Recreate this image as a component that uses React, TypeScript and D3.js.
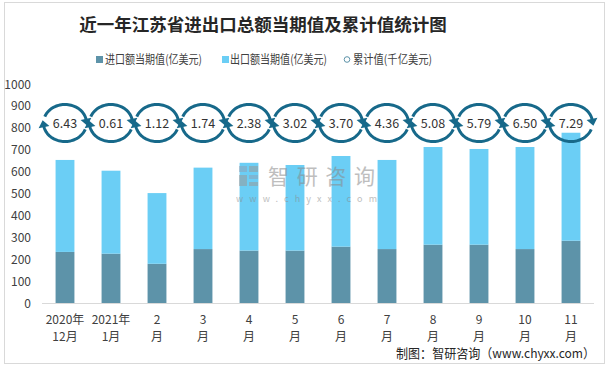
import React from "react";
import * as d3 from "d3";

const categories = ["2020年\n12月", "2021年\n1月", "2\n月", "3\n月", "4\n月", "5\n月", "6\n月", "7\n月", "8\n月", "9\n月", "10\n月", "11\n月"];
const importValues = [235, 227, 181, 248, 241, 241, 259, 248, 268, 268, 248, 286];
const exportValues = [419, 378, 322, 371, 400, 390, 413, 406, 445, 436, 465, 492];
const cumulativeValues = ["6.43", "0.61", "1.12", "1.74", "2.38", "3.02", "3.70", "4.36", "5.08", "5.79", "6.50", "7.29"];
const yTicks = [0, 100, 200, 300, 400, 500, 600, 700, 800, 900, 1000];

const W = 613, H = 368;
const FONT = "'Noto Sans CJK SC', 'Noto Sans', sans-serif";
const IMP = "#5d93a9";
const EXP = "#6bcef5";
const RING = "#17698a";

function CycleIcon({ cx, cy, label }: { cx: number; cy: number; label: string }) {
  const rx = 21.5, ry = 18.5;
  const arc = (a0: number, a1: number) => {
    const pts: [number, number][] = d3.range(0, 41).map((i) => {
      const t = ((a0 + (a1 - a0) * (i / 40)) * Math.PI) / 180;
      return [cx + rx * Math.cos(t), cy + ry * Math.sin(t)];
    });
    return d3.line()(pts) as string;
  };
  const head = (a: number) => {
    const t = (a * Math.PI) / 180;
    const ex = cx + rx * Math.cos(t), ey = cy + ry * Math.sin(t);
    let tx = -rx * Math.sin(t), ty = ry * Math.cos(t);
    const l = Math.hypot(tx, ty);
    tx /= l; ty /= l;
    const nx = -ty, ny = tx;
    const tip = [ex + tx * 6, ey + ty * 6];
    const b1 = [ex - tx * 1 + nx * 5.5, ey - ty * 1 + ny * 5.5];
    const b2 = [ex - tx * 1 - nx * 5.5, ey - ty * 1 - ny * 5.5];
    return `M${tip[0]},${tip[1]}L${b1[0]},${b1[1]}L${b2[0]},${b2[1]}Z`;
  };
  return (
    <g>
      <path d={arc(200, 350)} fill="none" stroke={RING} strokeWidth={3} />
      <path d={head(350)} fill={RING} />
      <path d={arc(20, 170)} fill="none" stroke={RING} strokeWidth={3} />
      <path d={head(170)} fill={RING} />
      <text x={cx} y={cy + 4.5} textAnchor="middle" fontSize={12.5} fill="#333" fontFamily={FONT}>{label}</text>
    </g>
  );
}

export default function App() {
  const x = d3.scaleBand<string>().domain(categories).range([42, 594]).paddingInner(0.59).paddingOuter(0.295);
  const y = d3.scaleLinear().domain([0, 1000]).range([303.5, 84]);
  const stacked = categories.map((c, i) => ({ c, imp: importValues[i], exp: exportValues[i] }));
  const series = d3.stack<any>().keys(["imp", "exp"])(stacked);
  const colors = [IMP, EXP];

  return (
    <svg width={W} height={H} style={{ position: "absolute", left: 0, top: 0, background: "#fff" }} fontFamily={FONT}>
      <rect x={4.5} y={2.5} width={600} height={361} fill="#fff" stroke="#d9d9d9" strokeWidth={1} />
      <text x={263} y={31} textAnchor="middle" fontSize={17.5} fontWeight="bold" fill="#262626">近一年江苏省进出口总额当期值及累计值统计图</text>

      {/* legend */}
      <rect x={96} y={56} width={7} height={7} fill={IMP} />
      <text x={105} y={64} fontSize={12} fill="#404040" textLength={97} lengthAdjust="spacingAndGlyphs">进口额当期值(亿美元)</text>
      <rect x={222} y={56} width={7} height={7} fill={EXP} />
      <text x={230} y={64} fontSize={12} fill="#404040" textLength={97} lengthAdjust="spacingAndGlyphs">出口额当期值(亿美元)</text>
      <circle cx={347} cy={59.5} r={2.8} fill="#fff" stroke={IMP} strokeWidth={1} />
      <text x={353} y={64} fontSize={12} fill="#404040" textLength={79} lengthAdjust="spacingAndGlyphs">累计值(千亿美元)</text>

      {/* y ticks */}
      {yTicks.map((t) => (
        <text key={t} x={31} y={y(t) + 4.5} textAnchor="end" fontSize={12} fill="#404040">{t}</text>
      ))}

      {/* bars */}
      {series.map((s, si) => (
        <g key={si} fill={colors[si]}>
          {s.map((d: any, i: number) => (
            <rect key={i} x={x(categories[i])} y={y(d[1])} width={x.bandwidth()} height={y(d[0]) - y(d[1])} />
          ))}
        </g>
      ))}

      {/* watermark */}
      <g opacity={0.55}>
        <rect x={239} y={166} width={8} height={6} fill="#8fa3b8" />
        <rect x={249} y={166} width={9} height={6} fill="#9a9a9a" />
        <rect x={239} y={175} width={8} height={11} fill="#9a9a9a" />
        <rect x={249} y={175} width={9} height={4} fill="#8fa3b8" />
        <rect x={249} y={182} width={9} height={4} fill="#9a9a9a" />
        <text x={268} y={184} fontSize={21} fill="#8a8a8a" textLength={107} lengthAdjust="spacing">智研咨询</text>
        <text x={236} y={202} fontSize={9} fill="#8a8a8a" textLength={141} lengthAdjust="spacing">www.chyxx.com</text>
      </g>

      {/* x axis */}
      <line x1={42} x2={594} y1={303.5} y2={303.5} stroke="#d9d9d9" strokeWidth={1} />
      {categories.map((c, i) => {
        const lines = c.split("\n");
        const cx = (x(c) as number) + x.bandwidth() / 2;
        return (
          <text key={i} x={cx} textAnchor="middle" fontSize={12} fill="#404040">
            {lines.map((l, j) => (
              <tspan key={j} x={cx} y={324 + j * 16.5}>{l}</tspan>
            ))}
          </text>
        );
      })}

      {/* cumulative icons */}
      {categories.map((c, i) => (
        <CycleIcon key={i} cx={(x(c) as number) + x.bandwidth() / 2} cy={123} label={cumulativeValues[i]} />
      ))}

      <text x={595} y={358} textAnchor="end" fontSize={13} fill="#262626" textLength={199} lengthAdjust="spacingAndGlyphs">制图：智研咨询（www.chyxx.com）</text>
    </svg>
  );
}
